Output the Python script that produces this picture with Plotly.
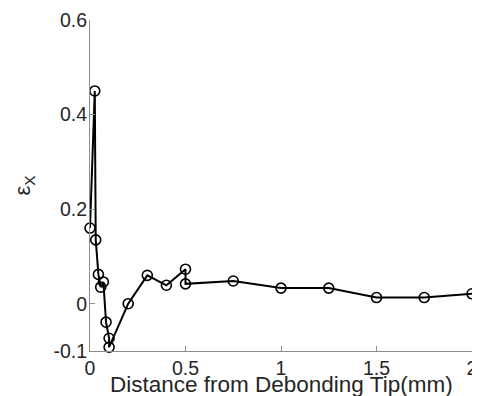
import plotly.graph_objects as go

distance_mm = [0.0, 0.025, 0.03, 0.044, 0.056, 0.07, 0.084, 0.1, 0.1, 0.2,
               0.3, 0.4, 0.5, 0.5, 0.75, 1.0, 1.25, 1.5, 1.75, 2.0]
strain_x = [0.16, 0.45, 0.135, 0.062, 0.035, 0.046, -0.039, -0.073, -0.092, 0.0,
            0.06, 0.039, 0.073, 0.042, 0.048, 0.033, 0.033, 0.013, 0.013, 0.021]

x_ticks = [0, 0.5, 1, 1.5, 2]
x_tick_labels = ["0", "0.5", "1", "1.5", "2"]
y_ticks = [-0.1, 0, 0.2, 0.4, 0.6]
y_tick_labels = ["-0.1", "0", "0.2", "0.4", "0.6"]
x_title = "Distance from Debonding Tip(mm)"
y_title = "ε<sub>X</sub>"

fig = go.Figure()
fig.add_trace(go.Scatter(
    x=distance_mm, y=strain_x, mode="lines+markers",
    line=dict(color="black", width=2),
    marker=dict(symbol="circle-open", size=10, color="black", line=dict(width=1.6, color="black")),
    showlegend=False, cliponaxis=False,
))

font = "Liberation Sans, Arial, sans-serif"
# the page body adds an 8px offset, so the figure is 8px smaller and margins shifted
fig.update_layout(
    width=472, height=388,
    margin=dict(l=82, r=8, t=12, b=45, autoexpand=False),
    paper_bgcolor="white", plot_bgcolor="white",
    font=dict(family=font, size=19.5, color="#262626"),
)
fig.update_xaxes(
    range=[0, 2], tickvals=x_ticks, ticktext=x_tick_labels,
    showgrid=False, zeroline=False, showline=True, linecolor="#8c8c8c", linewidth=1,
    ticks="inside", ticklen=5, tickcolor="#8c8c8c",
)
fig.update_yaxes(
    range=[-0.1, 0.6], tickvals=y_ticks, ticktext=y_tick_labels,
    showgrid=False, zeroline=False, showline=True, linecolor="#8c8c8c", linewidth=1,
    ticks="inside", ticklen=5, tickcolor="#8c8c8c", ticklabelstandoff=-2,
    title=dict(text=y_title, font=dict(size=22), standoff=16),
)
fig.add_annotation(
    text=x_title, xref="paper", yref="paper", x=0.5, y=0,
    xanchor="center", yanchor="middle", yshift=-33, showarrow=False,
    font=dict(size=22.5, family=font, color="#262626"),
)
fig.write_html("out.html")
